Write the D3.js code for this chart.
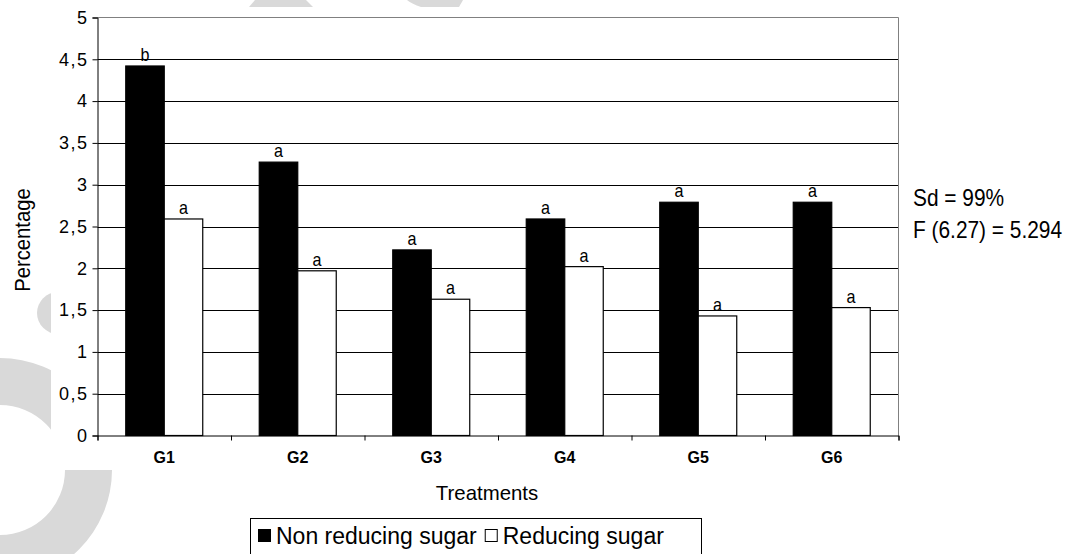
<!DOCTYPE html>
<html>
<head>
<meta charset="utf-8">
<script src="https://cdn.jsdelivr.net/npm/d3@7"></script>
<style>
  body { margin: 0; background: #fff; }
  svg { display: block; }
  text { font-family: "Liberation Sans", Arial, sans-serif; fill: #000; }
</style>
</head>
<body>
<svg id="chart" width="1073" height="554"></svg>
<script>
// Sugar content per treatment group
const categories = ["G1", "G2", "G3", "G4", "G5", "G6"];
const seriesNames = ["Non reducing sugar", "Reducing sugar"];
const nonReducing = [4.42, 3.27, 2.22, 2.59, 2.79, 2.79];
const reducing = [2.59, 1.97, 1.63, 2.02, 1.43, 1.53];
const nonReducingLetters = ["b", "a", "a", "a", "a", "a"];
const reducingLetters = ["a", "a", "a", "a", "a", "a"];
const yTicks = [0, 0.5, 1, 1.5, 2, 2.5, 3, 3.5, 4, 4.5, 5];
const statsLines = ["Sd = 99%", "F (6.27) = 5.294"];
const yTitle = "Percentage";
const xTitle = "Treatments";

const svg = d3.select("#chart");

// squeeze a text horizontally to a narrower face
function condense(sel, factor) {
  sel.each(function () {
    const w = this.getComputedTextLength();
    d3.select(this).attr("textLength", (w * factor).toFixed(1)).attr("lengthAdjust", "spacingAndGlyphs");
  });
}

// faint background marks
const bg = svg.append("g").attr("fill", "#d9d9d9");
const defs = svg.append("defs");
defs.append("clipPath").attr("id", "clipUpper")
  .append("rect").attr("x", 0).attr("y", 300).attr("width", 51).attr("height", 139);
defs.append("clipPath").attr("id", "clipHalf")
  .append("rect").attr("x", 30).attr("y", 285).attr("width", 21).attr("height", 60);
const ring = d3.arc().innerRadius(65).outerRadius(112);
bg.append("g").attr("clip-path", "url(#clipUpper)")
  .append("path")
  .attr("transform", "translate(0,470)")
  .attr("d", ring({ startAngle: -Math.PI, endAngle: Math.PI }));
bg.append("path")
  .attr("transform", "translate(0,470)")
  .attr("d", ring({ startAngle: Math.PI / 2, endAngle: Math.PI * 1.5 }));
bg.append("circle").attr("cx", 58).attr("cy", 313).attr("r", 21)
  .attr("clip-path", "url(#clipHalf)");
bg.append("path").attr("d", "M255,0L306,0L313,7L249,7Z");
bg.append("path").attr("d", "M407,0L463,0L459,7L421,7Q412,4 407,0Z");

// plot frame
const plotLeft = 97.5, plotRight = 898.5, plotTop = 17.5, plotBottom = 435.5;
const x = d3.scaleBand().domain(categories).range([plotLeft, plotRight]).padding(0);
const xSub = d3.scaleBand().domain(seriesNames).range([0, x.bandwidth()])
  .paddingInner(0).paddingOuter(0.734);
const y = d3.scaleLinear().domain([0, 5]).range([plotBottom, plotTop]);

const commaLocale = d3.formatLocale({ decimal: ",", thousands: ".", grouping: [3], currency: ["", ""] });
const fmt = commaLocale.format("~g");

// gridlines
svg.append("g")
  .selectAll("line")
  .data(yTicks.filter(d => d > 0 && d < 5))
  .join("line")
  .attr("x1", plotLeft).attr("x2", plotRight)
  .attr("y1", d => Math.round(y(d)) + 0.5).attr("y2", d => Math.round(y(d)) + 0.5)
  .attr("stroke", "#000").attr("stroke-width", 1);

// plot area border (top and right)
svg.append("path")
  .attr("d", `M${plotLeft},${plotTop}H${plotRight}V${plotBottom}`)
  .attr("fill", "none").attr("stroke", "#808080").attr("stroke-width", 1);

// bars
const rows = categories.map((c, i) => ({
  cat: c,
  values: [
    { series: seriesNames[0], value: nonReducing[i], letter: nonReducingLetters[i] },
    { series: seriesNames[1], value: reducing[i], letter: reducingLetters[i] }
  ]
}));
const fills = { [seriesNames[0]]: "#000", [seriesNames[1]]: "#fff" };

const groups = svg.append("g").selectAll("g")
  .data(rows).join("g")
  .attr("transform", d => `translate(${x(d.cat)},0)`);

groups.selectAll("rect")
  .data(d => d.values).join("rect")
  .attr("x", d => xSub(d.series))
  .attr("y", d => y(d.value))
  .attr("width", xSub.bandwidth())
  .attr("height", d => y(0) - y(d.value))
  .attr("fill", d => fills[d.series])
  .attr("stroke", "#000").attr("stroke-width", 1.2);

groups.selectAll("text.sig")
  .data(d => d.values).join("text")
  .attr("class", "sig")
  .attr("x", d => xSub(d.series) + xSub.bandwidth() / 2)
  .attr("y", d => y(d.value) - 5)
  .attr("text-anchor", "middle")
  .attr("font-size", 19)
  .text(d => d.letter)
  .call(condense, 0.85);

// y axis
const yAxis = svg.append("g")
  .attr("transform", `translate(${plotLeft},0)`)
  .call(d3.axisLeft(y).tickValues(yTicks).tickSize(5).tickPadding(4).tickFormat(fmt));
yAxis.selectAll("path.domain").attr("stroke", "#000");
yAxis.selectAll(".tick line").attr("stroke", "#000");
yAxis.selectAll(".tick text")
  .attr("font-family", "'Liberation Sans', Arial, sans-serif")
  .attr("font-size", 18).attr("fill", "#000")
  .attr("letter-spacing", 1.5);

// x axis: boundary ticks
const xb = d3.scaleLinear().domain([0, categories.length]).range([plotLeft, plotRight]);
const xAxis = svg.append("g")
  .attr("transform", `translate(0,${plotBottom})`)
  .call(d3.axisBottom(xb).tickValues(d3.range(categories.length + 1)).tickSize(5).tickFormat(""));
xAxis.selectAll("path.domain").attr("stroke", "#000");
xAxis.selectAll(".tick line").attr("stroke", "#000");

// category labels
svg.append("g")
  .selectAll("text")
  .data(categories).join("text")
  .attr("x", d => x(d) + x.bandwidth() / 2)
  .attr("y", 463)
  .attr("text-anchor", "middle")
  .attr("font-weight", "bold")
  .attr("font-size", 16)
  .text(d => d);

// axis titles
svg.append("text")
  .attr("x", 487)
  .attr("y", 500)
  .attr("text-anchor", "middle")
  .attr("font-size", 21)
  .text(xTitle)
  .call(condense, 0.97);

svg.append("text")
  .attr("transform", "translate(30,240) rotate(-90)")
  .attr("text-anchor", "middle")
  .attr("font-size", 22)
  .text(yTitle)
  .call(condense, 0.92);

// statistics note, set in a narrowed face
svg.append("g")
  .selectAll("text")
  .data(statsLines).join("text")
  .attr("transform", (d, i) => `translate(913,${206 + i * 32}) scale(0.87,1)`)
  .attr("font-size", 24)
  .text(d => d);

// legend
const legend = svg.append("g");
legend.append("rect")
  .attr("x", 250.5).attr("y", 518.5).attr("width", 451).attr("height", 40)
  .attr("fill", "#fff").attr("stroke", "#000").attr("stroke-width", 1);
let cursor = 258;
seriesNames.forEach((name, i) => {
  legend.append("rect")
    .attr("x", cursor + 0.5).attr("y", 529.5)
    .attr("width", 12).attr("height", 12)
    .attr("fill", fills[name]).attr("stroke", "#000").attr("stroke-width", 1);
  cursor += 18;
  const t = legend.append("text")
    .attr("x", cursor).attr("y", 544)
    .attr("font-size", 23)
    .text(name);
  cursor += t.node().getComputedTextLength() + 8;
});
</script>
</body>
</html>
